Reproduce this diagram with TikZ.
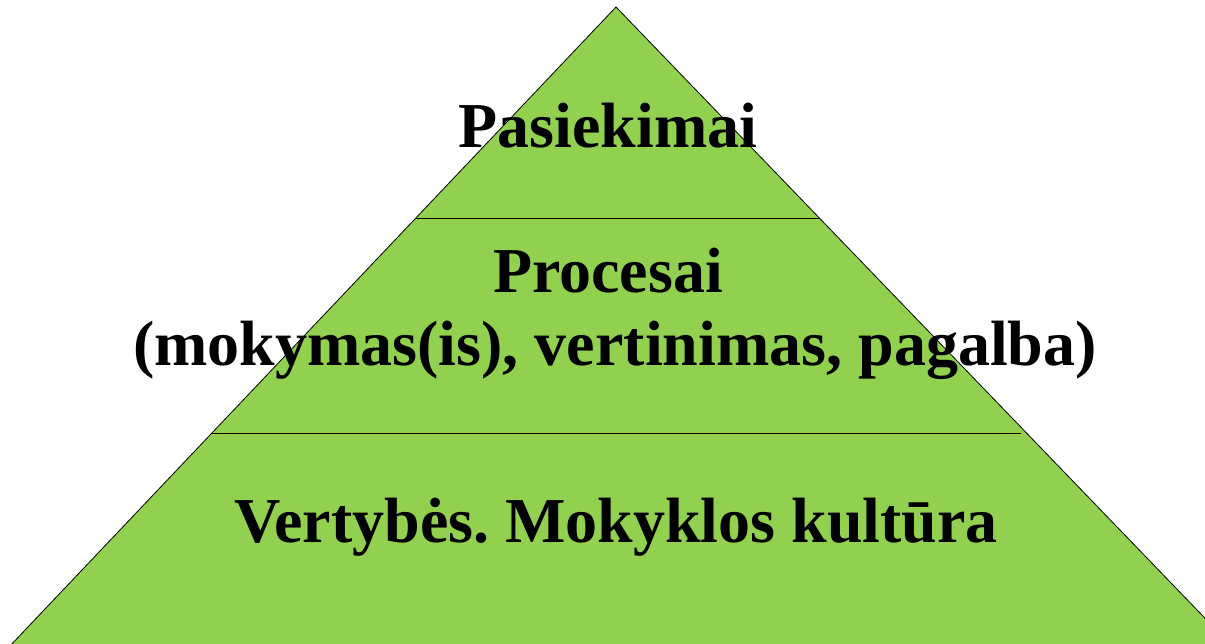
\documentclass[tikz,border=0pt]{standalone}
\usepackage{fontspec}
\setmainfont{Liberation Serif}
\definecolor{levelgreen}{HTML}{92D050}
\tikzset{
  level/.style={font=\fontsize{64}{70}\selectfont\bfseries\frenchspacing, anchor=base, inner sep=0pt},
}
\begin{document}
\begin{tikzpicture}[x=1pt,y=-1pt]
      \useasboundingbox (0,0) rectangle (1205,644);
      \clip (0,0) rectangle (1205,644);
      \coordinate (top) at (616,7);
      \coordinate (bl) at (-10,667);
      \coordinate (br) at (1252,667);
      \filldraw[fill=levelgreen, draw=black, line width=0.8pt] (top) -- (bl) -- (br) -- cycle;
      \coordinate (a1) at (415,219);
      \coordinate (a2) at (819,219);
      \coordinate (b1) at (212,433);
      \coordinate (b2) at (1021,433);
      \begin{scope}[line width=1pt]
        \draw (a1) to (a2);
        \draw (b1) to (b2);
      \end{scope}
      \draw
        (608,148) node[level] (0){Pasiekimai}
        (608,293) node[level] (1){Procesai}
        (615,365) node[level] (2){(mokymas(is), vertinimas, pagalba)}
        (616,542) node[level] (3){Vertybės. Mokyklos kultūra};
    \end{tikzpicture}
\end{document}
